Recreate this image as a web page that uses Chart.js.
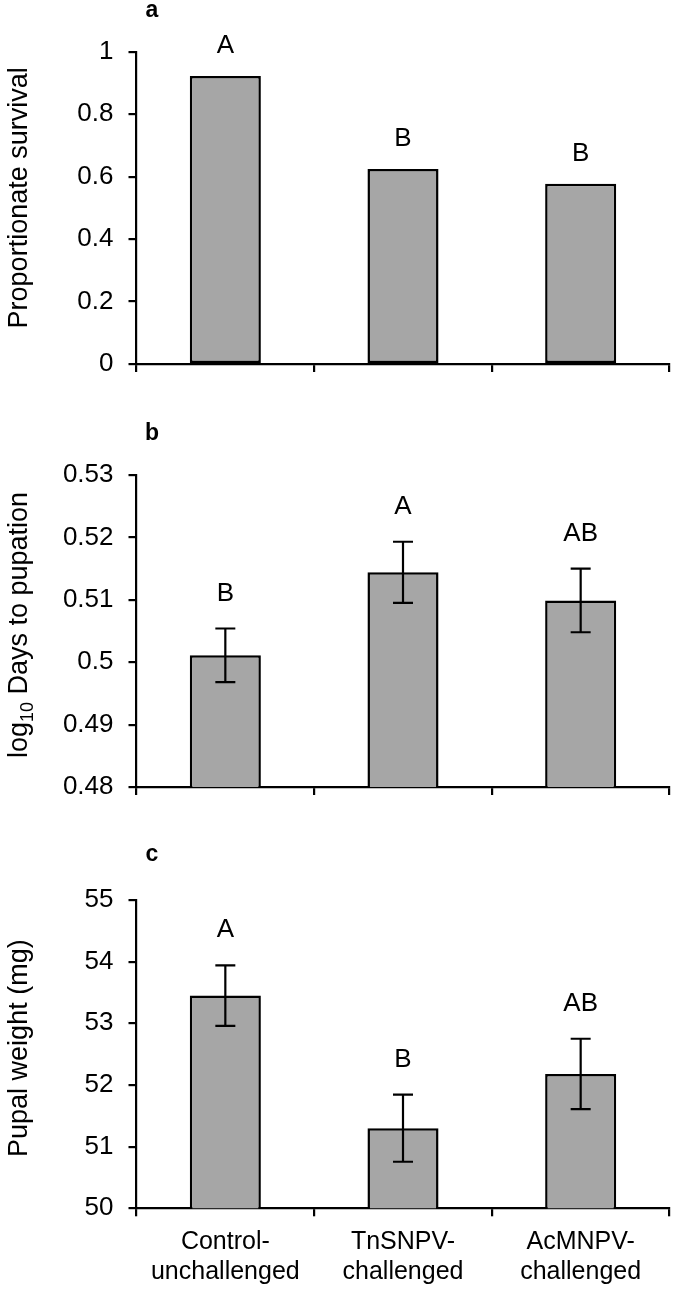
<!DOCTYPE html>
<html><head><meta charset="utf-8">
<script src="https://cdn.jsdelivr.net/npm/chart.js@4.4.0/dist/chart.umd.min.js"></script>
<style>
html,body{margin:0;padding:0;background:#fff;}
#wrap{position:relative;width:675px;height:1290px;background:#fff;}
.p{position:absolute;left:0;width:675px;}
</style></head><body>
<div id="wrap">
<div class="p" style="top:0;height:420px"><canvas id="ca"></canvas></div>
<div class="p" style="top:420px;height:420px"><canvas id="cb"></canvas></div>
<div class="p" style="top:840px;height:450px"><canvas id="cc"></canvas></div>
</div>
<script>
// ---- data ----
const categories = [["Control-","unchallenged"],["TnSNPV-","challenged"],["AcMNPV-","challenged"]];

const survival = [0.922, 0.624, 0.577];
const survivalLetters = ["A","B","B"];
const survivalTicks = [0, 0.2, 0.4, 0.6, 0.8, 1];

const pupationDays = [0.5011, 0.5144, 0.5099];
const pupationSE = [0.0043, 0.0049, 0.0051];
const pupationLetters = ["B","A","AB"];
const pupationTicks = [0.48, 0.49, 0.5, 0.51, 0.52, 0.53];

const pupalWeight = [53.45, 51.30, 52.18];
const pupalWeightSE = [0.49, 0.545, 0.57];
const weightLetters = ["A","B","AB"];
const weightTicks = [50, 51, 52, 53, 54, 55];

// ---- drawing ----
const FONT = "'Liberation Sans', Arial, Helvetica, sans-serif";
Chart.defaults.font.family = FONT;
Chart.defaults.color = '#000';

function overlay(o){
  return {
    id: 'ov' + o.id,
    afterDraw(chart){
      const ctx = chart.ctx, xs = chart.scales.x, ys = chart.scales.y, ca = chart.chartArea;
      ctx.save();
      ctx.strokeStyle = '#000'; ctx.fillStyle = '#000'; ctx.lineWidth = 2.2;
      o.values.forEach((v, i) => {
        const x = xs.getPixelForValue(i);
        let topVal = v;
        if (o.se) {
          const yt = ys.getPixelForValue(v + o.se[i]);
          const yb = ys.getPixelForValue(v - o.se[i]);
          ctx.beginPath();
          ctx.moveTo(x, yt); ctx.lineTo(x, yb);
          ctx.moveTo(x - 10, yt); ctx.lineTo(x + 10, yt);
          ctx.moveTo(x - 10, yb); ctx.lineTo(x + 10, yb);
          ctx.stroke();
          topVal = v + o.se[i];
        }
        const yTop = ys.getPixelForValue(topVal);
        ctx.font = "26px " + FONT;
        ctx.textAlign = 'center'; ctx.textBaseline = 'alphabetic';
        ctx.fillText(o.letters[i], x, yTop - o.letterGap);
      });
      // y-axis title (rotated), with optional subscript parts
      const cy = (ca.top + ca.bottom) / 2 + o.titleShift;
      const big = "27px " + FONT, small = "18px " + FONT;
      let total = 0;
      o.title.forEach(p => { ctx.font = p.sub ? small : big; total += ctx.measureText(p.t).width; });
      ctx.translate(27, cy);
      ctx.rotate(-Math.PI / 2);
      ctx.textAlign = 'left'; ctx.textBaseline = 'alphabetic';
      let px = -total / 2;
      o.title.forEach(p => {
        ctx.font = p.sub ? small : big;
        ctx.fillText(p.t, px, p.sub ? 6 : 0);
        px += ctx.measureText(p.t).width;
      });
      ctx.restore();
      // panel letter
      ctx.save();
      ctx.font = "bold 23px " + FONT;
      ctx.fillStyle = '#000';
      ctx.textAlign = 'center'; ctx.textBaseline = 'alphabetic';
      ctx.fillText(o.panel, 152, o.panelY);
      ctx.restore();
    }
  };
}

function makePanel(id, o){
  return new Chart(document.getElementById(id), {
    type: 'bar',
    data: {
      labels: categories,
      datasets: [{
        data: o.values,
        backgroundColor: '#a6a6a6',
        borderColor: '#000',
        borderWidth: 2.5,
        borderSkipped: false,
        barPercentage: 0.4,
        categoryPercentage: 1.0
      }]
    },
    options: {
      responsive: true,
      maintainAspectRatio: false,
      animation: false,
      layout: { padding: { top: o.top, right: 5.5, bottom: 0, left: 0 } },
      plugins: { legend: { display: false }, tooltip: { enabled: false } },
      scales: {
        x: {
          grid: { offset: true, drawOnChartArea: false, drawTicks: true, tickLength: 8, color: '#000', lineWidth: 2.2 },
          border: { display: true, color: '#000', width: 2.2 },
          ticks: { display: o.showX, font: { size: 25, lineHeight: 1.2 }, color: '#000', padding: 11, maxRotation: 0, autoSkip: false },
          afterFit(s){ s.height = o.xh; }
        },
        y: {
          min: o.ticks[0], max: o.ticks[o.ticks.length - 1],
          grid: { drawOnChartArea: false, drawTicks: true, tickLength: 8, color: '#000', lineWidth: 2.2 },
          border: { display: true, color: '#000', width: 2.2 },
          ticks: { font: { size: 26 }, color: '#000', padding: 15, callback: v => String(+Number(v).toFixed(4)) },
          afterBuildTicks(s){ s.ticks = o.ticks.map(v => ({ value: v })); },
          afterFit(s){ s.width = 136.5; }
        }
      }
    },
    plugins: [overlay(o)]
  });
}

makePanel('ca', {
  id: 'a', panel: 'a', panelY: 17, values: survival, se: null, letters: survivalLetters,
  ticks: survivalTicks, top: 51.7, xh: 56, showX: false, letterGap: 23,
  title: [{ t: 'Proportionate survival' }], titleShift: -10
});
makePanel('cb', {
  id: 'b', panel: 'b', panelY: 20, values: pupationDays, se: pupationSE, letters: pupationLetters,
  ticks: pupationTicks, top: 55, xh: 53, showX: false, letterGap: 28,
  title: [{ t: 'log' }, { t: '10', sub: true }, { t: ' Days to pupation' }], titleShift: -6
});
makePanel('cc', {
  id: 'c', panel: 'c', panelY: 21, values: pupalWeight, se: pupalWeightSE, letters: weightLetters,
  ticks: weightTicks, top: 60, xh: 81.7, showX: true, letterGap: 28,
  title: [{ t: 'Pupal weight (mg)' }], titleShift: -6
});
</script>
</body></html>
